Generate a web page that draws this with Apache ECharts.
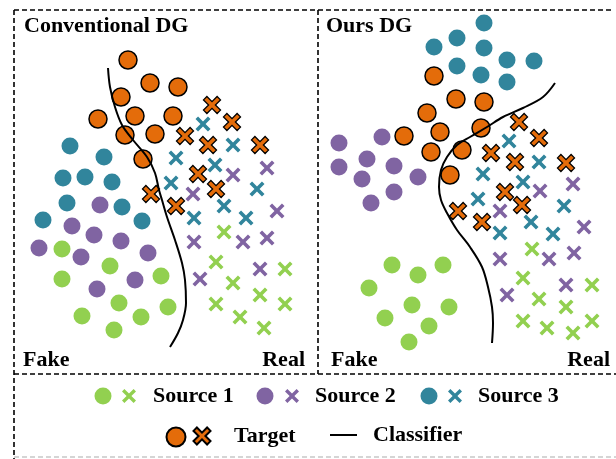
<!DOCTYPE html>
<html><head><meta charset="utf-8">
<script src="https://cdn.jsdelivr.net/npm/echarts@6/dist/echarts.min.js"></script>
<style>html,body{margin:0;padding:0;background:#fff}#c{width:616px;height:459px}</style>
</head><body><div id="c"></div>
<script>
// ---------- data (feature-space units, x 0..75, y 0..91) ----------
// Conventional DG panel
const convTargetFake = [[28.5,78.5],[34,72.75],[41,71.75],[26.75,69.25],[21,63.75],[30.25,64.5],[39.75,64.5],[27.75,59.75],[35.25,60],[32.25,53.75]];
const convTargetReal = [[49.5,67.25],[54.5,63],[42.75,59.5],[48.5,57.25],[61.5,57.25],[46,50],[50.5,46.25],[34.25,45],[40.5,42]];
const convS1Fake = [[12,31.25],[24,27],[12,23.75],[36.75,24.5],[26.25,17.75],[38.5,16.75],[17,14.5],[31.75,14.25],[25,11]];
const convS1Real = [[52.5,35.5],[50.5,28],[67.75,26.25],[54.75,22.75],[61.5,19.75],[50.5,17.5],[67.75,17.5],[56.5,14.25],[62.5,11.5]];
const convS2Fake = [[21.5,42.25],[14.5,37],[20,34.75],[26.75,33.25],[6.25,31.5],[16.75,29.25],[33.5,30.25],[30.25,23.5],[20.75,21.25]];
const convS2Real = [[54.75,49.75],[63.25,51.5],[44.75,45],[65.75,40.75],[45,33],[57.25,33],[63.25,34],[61.5,26.25],[46.5,23.75]];
const convS3Fake = [[14,57],[22.5,54.25],[12.25,49],[17.75,49.25],[24.5,48],[13.25,42.75],[27,41.75],[7.25,38.5],[32,38.25]];
const convS3Real = [[47.25,62.5],[54.75,57.25],[40.5,54],[50.25,52.25],[39.25,47.75],[60.75,46.25],[52.5,42],[45,39],[58,39]];
const convClassifier = [[23.5,76.5],[24,71.75],[25.25,66.75],[27,62.25],[29.75,58.5],[33.25,54.25],[35.25,50.25],[36.25,46],[37,43.5],[38.25,39.25],[40.25,33.5],[42,27.75],[42.75,23.5],[43,17.75],[42.25,13.5],[41,10.25],[39,6.75]];

// Ours DG panel
const oursTargetFake = [[29,74.5],[34.5,68.75],[41.5,68],[27.25,65.25],[21.5,59.5],[30.5,60.5],[40.75,61.5],[28.25,55.5],[36,56],[33,49.75]];
const oursTargetReal = [[50.25,63],[55.25,59],[43.25,55.25],[49.25,53],[62,52.75],[46.75,45.5],[51,42.25],[35,40.75],[41,38]];
const oursS1Fake = [[18.5,27.25],[31.25,27.25],[25,24.75],[12.75,21.5],[23.5,17.25],[32.75,16.75],[16.75,14],[27.75,12],[22.75,8]];
const oursS1Real = [[53.5,31.25],[51.25,24],[68.5,22.25],[55.25,18.75],[62,16.75],[51.25,13.25],[68.5,13.25],[57.25,11.5],[63.75,10.25]];
const oursS2Fake = [[5.25,57.75],[16,59.25],[12.25,53.75],[5.25,51.75],[19,52],[11,48.75],[25,49.25],[19,45.5],[13.25,42.75]];
const oursS2Real = [[63.75,47.5],[55.5,45.75],[45.5,40.75],[66.5,36.75],[45.5,28.75],[57.75,28.75],[64,30.25],[62,22.25],[47.25,19.75]];
const oursS3Fake = [[41.5,87.75],[34.75,84],[29,81.75],[41.5,81.5],[47.25,78.5],[54,78.25],[34.75,77],[40.75,74.75],[47.25,73]];
const oursS3Real = [[47.75,58.25],[55.25,53],[41.25,50],[51.25,48],[40,43.75],[61.5,42],[53.25,38],[45.5,35.25],[58.75,35]];
const oursClassifier = [[59.25,72.75],[56.25,69.25],[51.25,66.5],[46.25,64.25],[42.25,61.75],[38,59.25],[34.75,57.25],[32.25,54.25],[30.75,51],[30.25,46.75],[30.75,43.5],[32.25,40.25],[34.75,36],[38,31.75],[41,26.75],[42.5,21.75],[43.5,16.75],[43.75,12.75],[43.5,7.75]];

const panelTitles = ['Conventional DG', 'Ours DG'];
const sideLabels = ['Fake', 'Real'];
const legendNames = {S1x:'Source 1', S2x:'Source 2', S3x:'Source 3', Tx:'Target', Classifier:'Classifier'};

// ---------- styles ----------
const FONT = '"Liberation Serif","Times New Roman",serif';
const COL = {S1:'#92D050', S2:'#8064A2', S3:'#31859C', T:'#E46C0A'};
const X_THIN = 'path://M17,0L50,33L83,0L100,17L67,50L100,83L83,100L50,67L17,100L0,83L33,50L0,17Z';
const X_THICK = 'path://M20,0L50,30L80,0L100,20L70,50L100,80L80,100L50,70L20,100L0,80L30,50L0,20Z';

function circles(name, data, g, color, size, border) {
  return {type:'scatter', name, data, xAxisIndex:g, yAxisIndex:g, symbol:'circle', symbolSize:size,
    itemStyle:{color, opacity:1, borderColor: border ? '#000' : color, borderWidth: border ? 1.5 : 0},
    z: border ? 4 : 2, silent:true};
}
function crosses(name, data, g, color, thick) {
  return {type:'scatter', name, data, xAxisIndex:g, yAxisIndex:g, symbol: thick ? X_THICK : X_THIN,
    symbolSize: thick ? 17 : 15,
    itemStyle:{color, opacity:1, borderColor: thick ? '#000' : color, borderWidth: thick ? 1.3 : 0},
    z: thick ? 4 : 2, silent:true};
}
function classifier(data, g) {
  return {type:'line', name:'Classifier', data, xAxisIndex:g, yAxisIndex:g, smooth:0.35, symbol:'none', showSymbol:false,
    lineStyle:{color:'#000', width:2}, itemStyle:{color:'#000'}, z:6, silent:true};
}

const panels = [
  [convS1Fake, convS1Real, convS2Fake, convS2Real, convS3Fake, convS3Real, convTargetFake, convTargetReal, convClassifier],
  [oursS1Fake, oursS1Real, oursS2Fake, oursS2Real, oursS3Fake, oursS3Real, oursTargetFake, oursTargetReal, oursClassifier]
];
const series = [];
panels.forEach((p, g) => {
  series.push(circles('S1c', p[0], g, COL.S1, 17, false));
  series.push(crosses('S1x', p[1], g, COL.S1, false));
  series.push(circles('S2c', p[2], g, COL.S2, 17, false));
  series.push(crosses('S2x', p[3], g, COL.S2, false));
  series.push(circles('S3c', p[4], g, COL.S3, 17, false));
  series.push(crosses('S3x', p[5], g, COL.S3, false));
  series.push(circles('Tc', p[6], g, COL.T, 18, true));
  series.push(crosses('Tx', p[7], g, COL.T, true));
  series.push(classifier(p[8], g));
});

// legend items: [series name, icon centre x, centre y, icon w, icon h, text start x, icon]
const legendLayout = [
  ['S1c',103,396,17,17,null], ['S1x',129,396,14,14,153],
  ['S2c',265,396,17,17,null], ['S2x',292,396,14,14,315],
  ['S3c',429,396,17,17,null], ['S3x',455,396,14,14,478],
  ['Tc',175,436,19,19,null], ['Tx',201,436,17,17,233],
  ['Classifier',343.5,435,27,2,373,'rect']
];
const TEXT_HALF = 11;
const legend = legendLayout.map(([n, cx, cy, w, h, tx, icon]) => {
  const left = cx - w / 2;
  const top = tx ? cy - Math.max(h / 2, TEXT_HALF) : cy - h / 2;
  return {
    data:[icon ? {name:n, icon} : n], left, top, itemWidth:w, itemHeight:h, padding:0, itemGap:0,
    selectedMode:false, orient:'horizontal',
    formatter: name => legendNames[name] || '',
    textStyle:{fontFamily:FONT, fontSize:22, fontWeight:'bold', color:'#000',
      padding:[0,0,0, tx ? Math.max(0, tx - (left + w + 5)) : 0]}
  };
});

const titleStyle = {fontFamily:FONT, fontSize:22, fontWeight:'bold', color:'#000'};
const title = [
  {text:panelTitles[0], left:24, top:15, padding:0, textStyle:titleStyle},
  {text:panelTitles[1], left:326, top:15, padding:0, textStyle:titleStyle},
  {text:sideLabels[0], left:23, top:349, padding:0, textStyle:titleStyle},
  {text:sideLabels[1], right:311, top:349, padding:0, textStyle:titleStyle},
  {text:sideLabels[0], left:331, top:349, padding:0, textStyle:titleStyle},
  {text:sideLabels[1], right:6, top:349, padding:0, textStyle:titleStyle}
];

const dash = {stroke:'#000', lineWidth:1.6, lineDash:[5,3]};
const graphic = [
  {type:'line', shape:{x1:14,y1:10,x2:614,y2:10}, style:dash, silent:true},
  {type:'line', shape:{x1:14,y1:10,x2:14,y2:459}, style:dash, silent:true},
  {type:'line', shape:{x1:318,y1:10,x2:318,y2:374}, style:dash, silent:true},
  {type:'line', shape:{x1:14,y1:374,x2:616,y2:374}, style:dash, silent:true},
  {type:'line', shape:{x1:14,y1:457,x2:616,y2:457}, style:{stroke:'#c8c8c8', lineWidth:1.6, lineDash:[5,3]}, silent:true}
];

const axisCommon = {type:'value', show:false, splitLine:{show:false}};
const option = {
  animation:false,
  backgroundColor:'#fff',
  title, legend, graphic,
  grid:[
    {left:14, top:10, width:300, height:364, containLabel:false, outerBoundsMode:'none'},
    {left:318, top:10, width:300, height:364, containLabel:false, outerBoundsMode:'none'}
  ],
  xAxis:[{...axisCommon, gridIndex:0, min:0, max:75}, {...axisCommon, gridIndex:1, min:0, max:75}],
  yAxis:[{...axisCommon, gridIndex:0, min:0, max:91}, {...axisCommon, gridIndex:1, min:0, max:91}],
  series
};
const chart = echarts.init(document.getElementById('c'), null, {renderer:'canvas'});
chart.setOption(option);
</script>
</body></html>
